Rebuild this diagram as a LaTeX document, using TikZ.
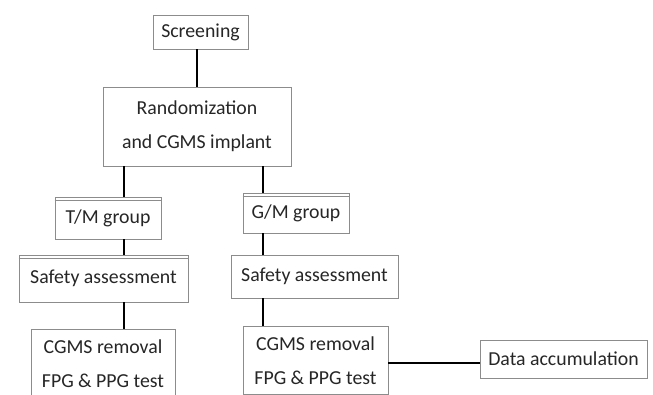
\documentclass[tikz,border=0pt]{standalone}
\usepackage{fontspec}
\setmainfont{Carlito}
\begin{document}
\begin{tikzpicture}[x=1pt,y=-1pt,
  box/.style={draw=black!45, line width=0.8pt, text=black!85, align=center, inner sep=0pt,
    font=\fontsize{19.8}{34}\selectfont},
  conn/.style={draw=black, line width=1.6pt},
  dbl/.style={draw=black!45, line width=0.7pt}]
\useasboundingbox (0,0) rectangle (653,394);
\clip (0,0) rectangle (653,394);
\fill[white] (0,0) rectangle (653,394);
% nodes
\node[box, minimum width=95pt, minimum height=34pt] (scr) at (200.5,32) {Screening};
\node[box, minimum width=188pt, minimum height=79pt] (rand) at (197,126.5) {Randomization\\and CGMS implant};
\node[box, minimum width=106pt, minimum height=42pt] (tm) at (108,218) {T/M group};
\node[box, minimum width=169pt, minimum height=47pt] (sa1) at (103.5,278.5) {Safety assessment};
\node[box, minimum width=144pt, inner ysep=10pt, anchor=north] (cg1) at (103,329) {CGMS removal\\FPG \& PPG test};
\node[box, minimum width=106pt, minimum height=40pt] (gm) at (296,213) {G/M group};
\node[box, minimum width=167pt, minimum height=43pt] (sa2) at (314.5,276.5) {Safety assessment};
\node[box, minimum width=145pt, inner ysep=10pt, anchor=north] (cg2) at (315.5,326) {CGMS removal\\FPG \& PPG test};
\node[box, minimum width=167pt, minimum height=38pt] (data) at (563.5,359) {Data accumulation};
% double top lines
\draw[dbl] ([yshift=-4pt]tm.north west) -- ([yshift=-4pt]tm.north east);
\draw[dbl] ([yshift=-4pt]sa1.north west) -- ([yshift=-4pt]sa1.north east);
\draw[dbl] ([yshift=-4pt]gm.north west) -- ([yshift=-4pt]gm.north east);
% connectors
\coordinate (lx) at (124,0);
\coordinate (rx) at (263,0);
\coordinate (sx) at (197,0);
\draw[conn] (scr.south -| sx) -- (rand.north -| sx);
\draw[conn] (rand.south -| lx) -- (tm.north -| lx);
\draw[conn] (tm.south -| lx) -- (sa1.north -| lx);
\draw[conn] (sa1.south -| lx) -- (cg1.north -| lx);
\draw[conn] (rand.south -| rx) -- (gm.north -| rx);
\draw[conn] (gm.south -| rx) -- (sa2.north -| rx);
\draw[conn] (sa2.south -| rx) -- (cg2.north -| rx);
\coordinate (hy) at (0,363);
\draw[conn, line width=1.2pt] (cg2.east |- hy) -- (data.west |- hy);
\end{tikzpicture}
\end{document}
